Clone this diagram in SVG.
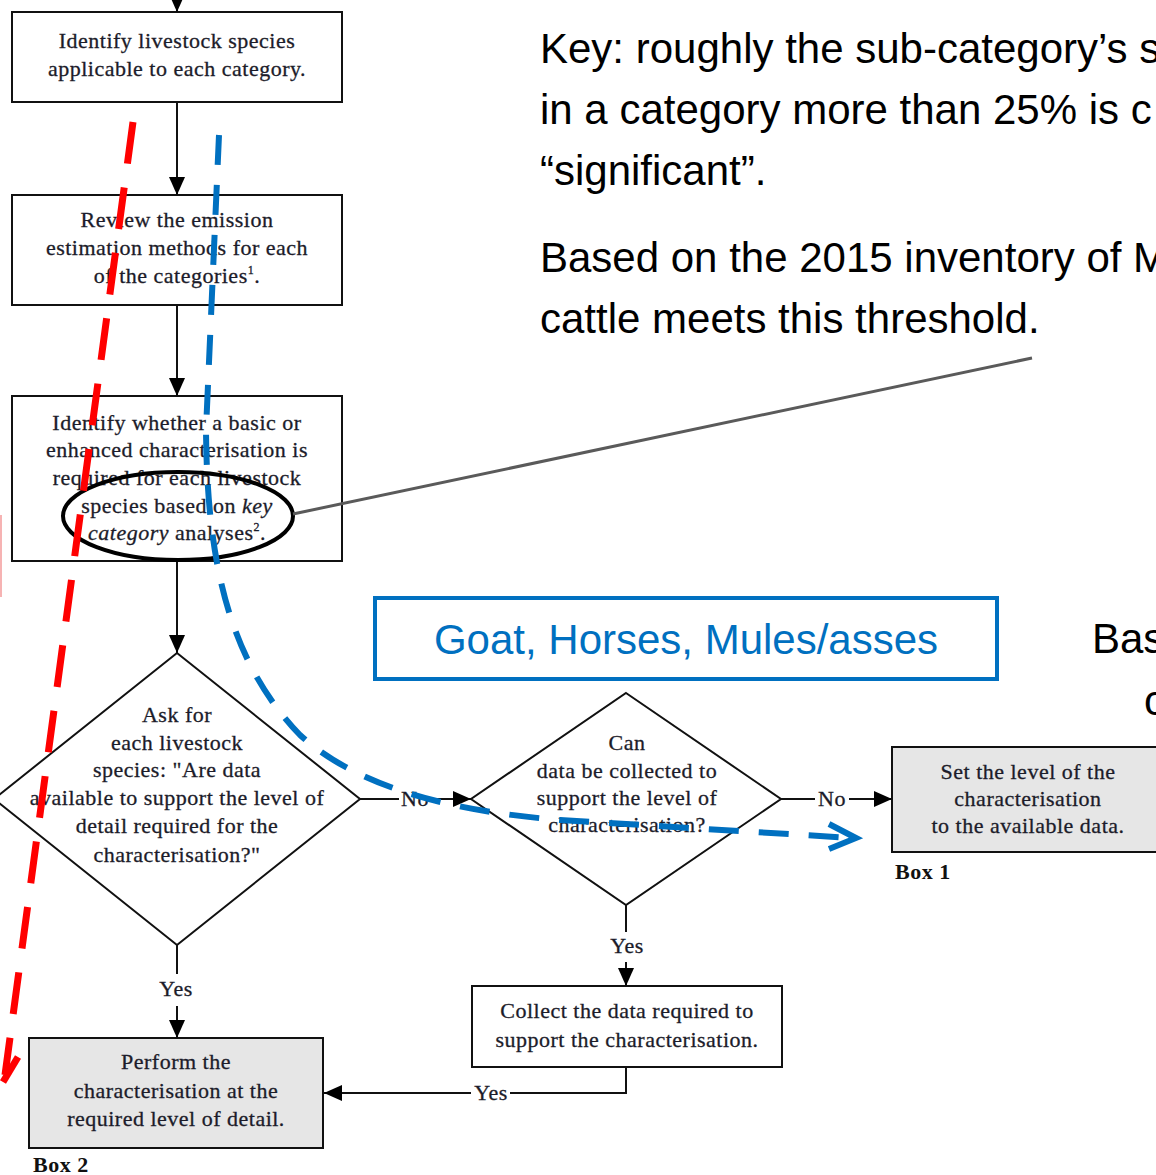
<svg xmlns="http://www.w3.org/2000/svg" width="1156" height="1175" viewBox="0 0 1156 1175">
<defs>
<style>
.box{fill:#fff;stroke:#111;stroke-width:2}
.grey{fill:#e6e6e6;stroke:#111;stroke-width:2}
.t,.lbl{font-family:"Liberation Serif","Times New Roman",serif;font-size:22px;letter-spacing:0.5px;fill:#1c1c2a;stroke:#1c1c2a;stroke-width:0.3;text-anchor:middle}
.bx{font-family:"Liberation Serif","Times New Roman",serif;font-size:22px;font-weight:bold;letter-spacing:0.5px;fill:#111}
.ln{fill:none;stroke:#111;stroke-width:2}
.big{font-family:"Liberation Sans",Arial,sans-serif;font-size:42px;fill:#000}
</style>
<marker id="ah" markerWidth="18" markerHeight="16" refX="18" refY="8" orient="auto" markerUnits="userSpaceOnUse">
<path d="M0,0 L18,8 L0,16 Z" fill="#000"/>
</marker>
</defs>
<rect width="1156" height="1175" fill="#fff"/>

<!-- right-hand explanatory text (clipped at the right edge as in the source) -->
<g id="key-text">
<text class="big" x="540" y="63">Key: roughly the sub-category’s s</text>
<text class="big" x="540" y="124">in a category more than 25% is c</text>
<text class="big" x="540" y="185">“significant”.</text>
<text class="big" x="540" y="272">Based on the 2015 inventory of M</text>
<text class="big" x="540" y="333">cattle meets this threshold.</text>
<text class="big" x="1092" y="653">Bas</text>
<text class="big" x="1144" y="715">c</text>
</g>

<!-- nodes -->
<g id="node-identify-species">
<rect class="box" x="12" y="12" width="330" height="90"/>
<text class="t" x="177" y="48">Identify livestock species</text>
<text class="t" x="177" y="76">applicable to each category.</text>
</g>
<g id="node-review-methods">
<rect class="box" x="12" y="195" width="330" height="110"/>
<text class="t" x="177" y="227">Review the emission</text>
<text class="t" x="177" y="255">estimation methods for each</text>
<text class="t" x="177" y="283">of the categories<tspan font-size="12" dy="-9">1</tspan><tspan dy="9">.</tspan></text>
</g>
<g id="node-identify-characterisation">
<rect class="box" x="12" y="396" width="330" height="165"/>
<text class="t" x="177" y="430">Identify whether a basic or</text>
<text class="t" x="177" y="457">enhanced characterisation is</text>
<text class="t" x="177" y="485">required for each livestock</text>
<text class="t" x="177" y="513">species based on <tspan font-style="italic">key</tspan></text>
<text class="t" x="177" y="540"><tspan font-style="italic">category</tspan> analyses<tspan font-size="12" dy="-9">2</tspan><tspan dy="9">.</tspan></text>
</g>
<g id="node-ask-data">
<polygon class="box" points="177,653 360,799 177,945 -6,799"/>
<text class="t" x="177" y="722">Ask for</text>
<text class="t" x="177" y="750">each livestock</text>
<text class="t" x="177" y="777">species: "Are data</text>
<text class="t" x="177" y="805">available to support the level of</text>
<text class="t" x="177" y="833">detail required for the</text>
<text class="t" x="177" y="862">characterisation?"</text>
</g>
<g id="node-can-collect">
<polygon class="box" points="626,693 781,799 626,905 471,799"/>
<text class="t" x="627" y="750">Can</text>
<text class="t" x="627" y="778">data be collected to</text>
<text class="t" x="627" y="805">support the level of</text>
<text class="t" x="627" y="832">characterisation?</text>
</g>
<g id="node-box1">
<rect class="grey" x="892" y="747" width="280" height="105"/>
<text class="t" x="1028" y="779">Set the level of the</text>
<text class="t" x="1028" y="806">characterisation</text>
<text class="t" x="1028" y="833">to the available data.</text>
<text class="bx" x="895" y="879">Box 1</text>
</g>
<g id="node-collect">
<rect class="box" x="472" y="986" width="310" height="81"/>
<text class="t" x="627" y="1018">Collect the data required to</text>
<text class="t" x="627" y="1047">support the characterisation.</text>
</g>
<g id="node-box2">
<rect class="grey" x="29" y="1038" width="294" height="110"/>
<text class="t" x="176" y="1069">Perform the</text>
<text class="t" x="176" y="1098">characterisation at the</text>
<text class="t" x="176" y="1126">required level of detail.</text>
<text class="bx" x="33" y="1172">Box 2</text>
</g>
<g id="node-species-box">
<rect x="375" y="598" width="622" height="81" fill="#fff" stroke="#0070C0" stroke-width="4"/>
<text x="686" y="654" font-family="'Liberation Sans',Arial,sans-serif" font-size="42" fill="#0070C0" text-anchor="middle">Goat, Horses, Mules/asses</text>
</g>

<!-- connectors -->
<g id="connectors">
<line class="ln" x1="177" y1="-5" x2="177" y2="12" marker-end="url(#ah)"/>
<line class="ln" x1="177" y1="102" x2="177" y2="195" marker-end="url(#ah)"/>
<line class="ln" x1="177" y1="305" x2="177" y2="396" marker-end="url(#ah)"/>
<line class="ln" x1="177" y1="561" x2="177" y2="653" marker-end="url(#ah)"/>
<line class="ln" x1="360" y1="799" x2="399" y2="799"/>
<line class="ln" x1="432" y1="799" x2="471" y2="799" marker-end="url(#ah)"/>
<text class="lbl" x="415" y="806">No</text>
<line class="ln" x1="781" y1="799" x2="815" y2="799"/>
<line class="ln" x1="849" y1="799" x2="892" y2="799" marker-end="url(#ah)"/>
<text class="lbl" x="832" y="806">No</text>
<line class="ln" x1="177" y1="945" x2="177" y2="974"/>
<line class="ln" x1="177" y1="1006" x2="177" y2="1038" marker-end="url(#ah)"/>
<text class="lbl" x="176" y="996">Yes</text>
<line class="ln" x1="626" y1="905" x2="626" y2="932"/>
<line class="ln" x1="626" y1="962" x2="626" y2="986" marker-end="url(#ah)"/>
<text class="lbl" x="627" y="953">Yes</text>
<polyline class="ln" points="626,1067 626,1093 510,1093"/>
<line class="ln" x1="471" y1="1093" x2="324" y2="1093" marker-end="url(#ah)"/>
<text class="lbl" x="491" y="1100">Yes</text>
</g>

<!-- annotations -->
<g id="annotations">
<ellipse cx="178" cy="516" rx="115" ry="44" fill="none" stroke="#000" stroke-width="4"/>
<line x1="293" y1="514" x2="1032" y2="358" stroke="#5a5a5a" stroke-width="3"/>
<line x1="1" y1="515" x2="1" y2="597" stroke="#f6b3b3" stroke-width="2"/>
<path d="M133,122 L5,1075" fill="none" stroke="#f00" stroke-width="7" stroke-dasharray="42,24"/>
<polyline points="18,1057 3,1082" fill="none" stroke="#f00" stroke-width="7"/>
<path d="M219,135 L206,430 C207,560 228,660 300,735 C360,790 460,812 560,820 L852,838" fill="none" stroke="#0070C0" stroke-width="6" stroke-dasharray="30,20"/>
<polyline points="829,824 856,838 829,849" fill="none" stroke="#0070C0" stroke-width="6"/>
</g>
</svg>
